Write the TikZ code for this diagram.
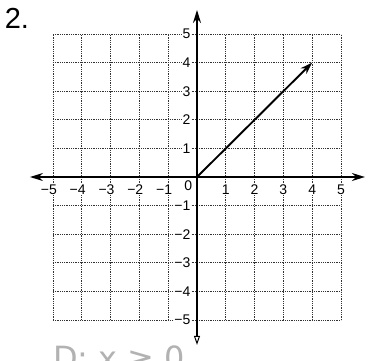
\documentclass[tikz,border=0pt]{standalone}
\usepackage{fontspec}
\setmainfont{Liberation Sans}
\newfontfamily\symfont{DejaVu Sans}
\usetikzlibrary{arrows.meta}
\begin{document}
\begin{tikzpicture}[x=28.8pt,y=28.6pt,
  gridline/.style={densely dotted,line width=0.8pt,black!80},
  axisline/.style={line width=1.7pt,black},
  ticklab/.style={font=\fontsize{14}{14}\selectfont,inner sep=0.6pt,fill=white},
  vec/.style={line width=1.9pt,-{Stealth[length=12pt,width=8pt]}}]
\useasboundingbox (-6.840,-6.399) rectangle (6.181,6.189);
\fill[white] (-6.840,-6.399) rectangle (6.181,6.189);
% grid
\foreach \i in {-5,...,-1,1,2,3,4,5} {
  \draw[gridline] (\i,-5) -- (\i,5);
  \draw[gridline] (-5,\i) -- (5,\i);
}
% tick labels
\foreach \i in {1,...,5} {
  \node[ticklab] (xp\i) at (\i,-0.45) {\i};
  \node[ticklab] (xn\i) at (-\i,-0.45) {\llap{−}\i};
  \node[ticklab,anchor=east] (yp\i) at (-0.2,\i) {\i};
  \node[ticklab,anchor=east] (yn\i) at (-0.2,-\i) {−\i};
}
\node[ticklab] (zero) at (-0.3,-0.3) {0};
% axes
\coordinate (xl) at (-5.8,0);
\coordinate (xr) at (5.83,0);
\coordinate (yt) at (0,5.84);
\coordinate (yb) at (0,-5.87);
\coordinate (O) at (0,0);
\coordinate (P) at (4,4);
\draw[axisline,{Stealth[length=13pt,width=8pt]}-{Stealth[length=13pt,width=8pt]}] (xl) -- (xr);
\draw[axisline,-{Stealth[length=13pt,width=8pt]}] (O) -- (yt);
\draw[axisline,-{Triangle[open,length=9pt,width=6pt,line width=1pt]}] (O) -- (yb);
\draw[vec] (O) -- (P);
% axis names (cut off, as in the scan)
\node[font=\fontsize{14}{14}\selectfont] (ylab) at (-0.25,6.35) {y};
\node[font=\fontsize{14}{14}\selectfont] (xlab) at (6.35,0.05) {x};
% problem number
\node[font=\fontsize{29}{29}\selectfont,anchor=north west,inner sep=0pt] (num) at (-6.68,5.92) {2.};
% handwritten note (cut off)
\node[font=\symfont\fontsize{32}{32}\selectfont,text=black!30,anchor=north west,inner sep=0pt] (note) at (-5.0,-5.9) {D: x ≥ 0};
\end{tikzpicture}
\end{document}
